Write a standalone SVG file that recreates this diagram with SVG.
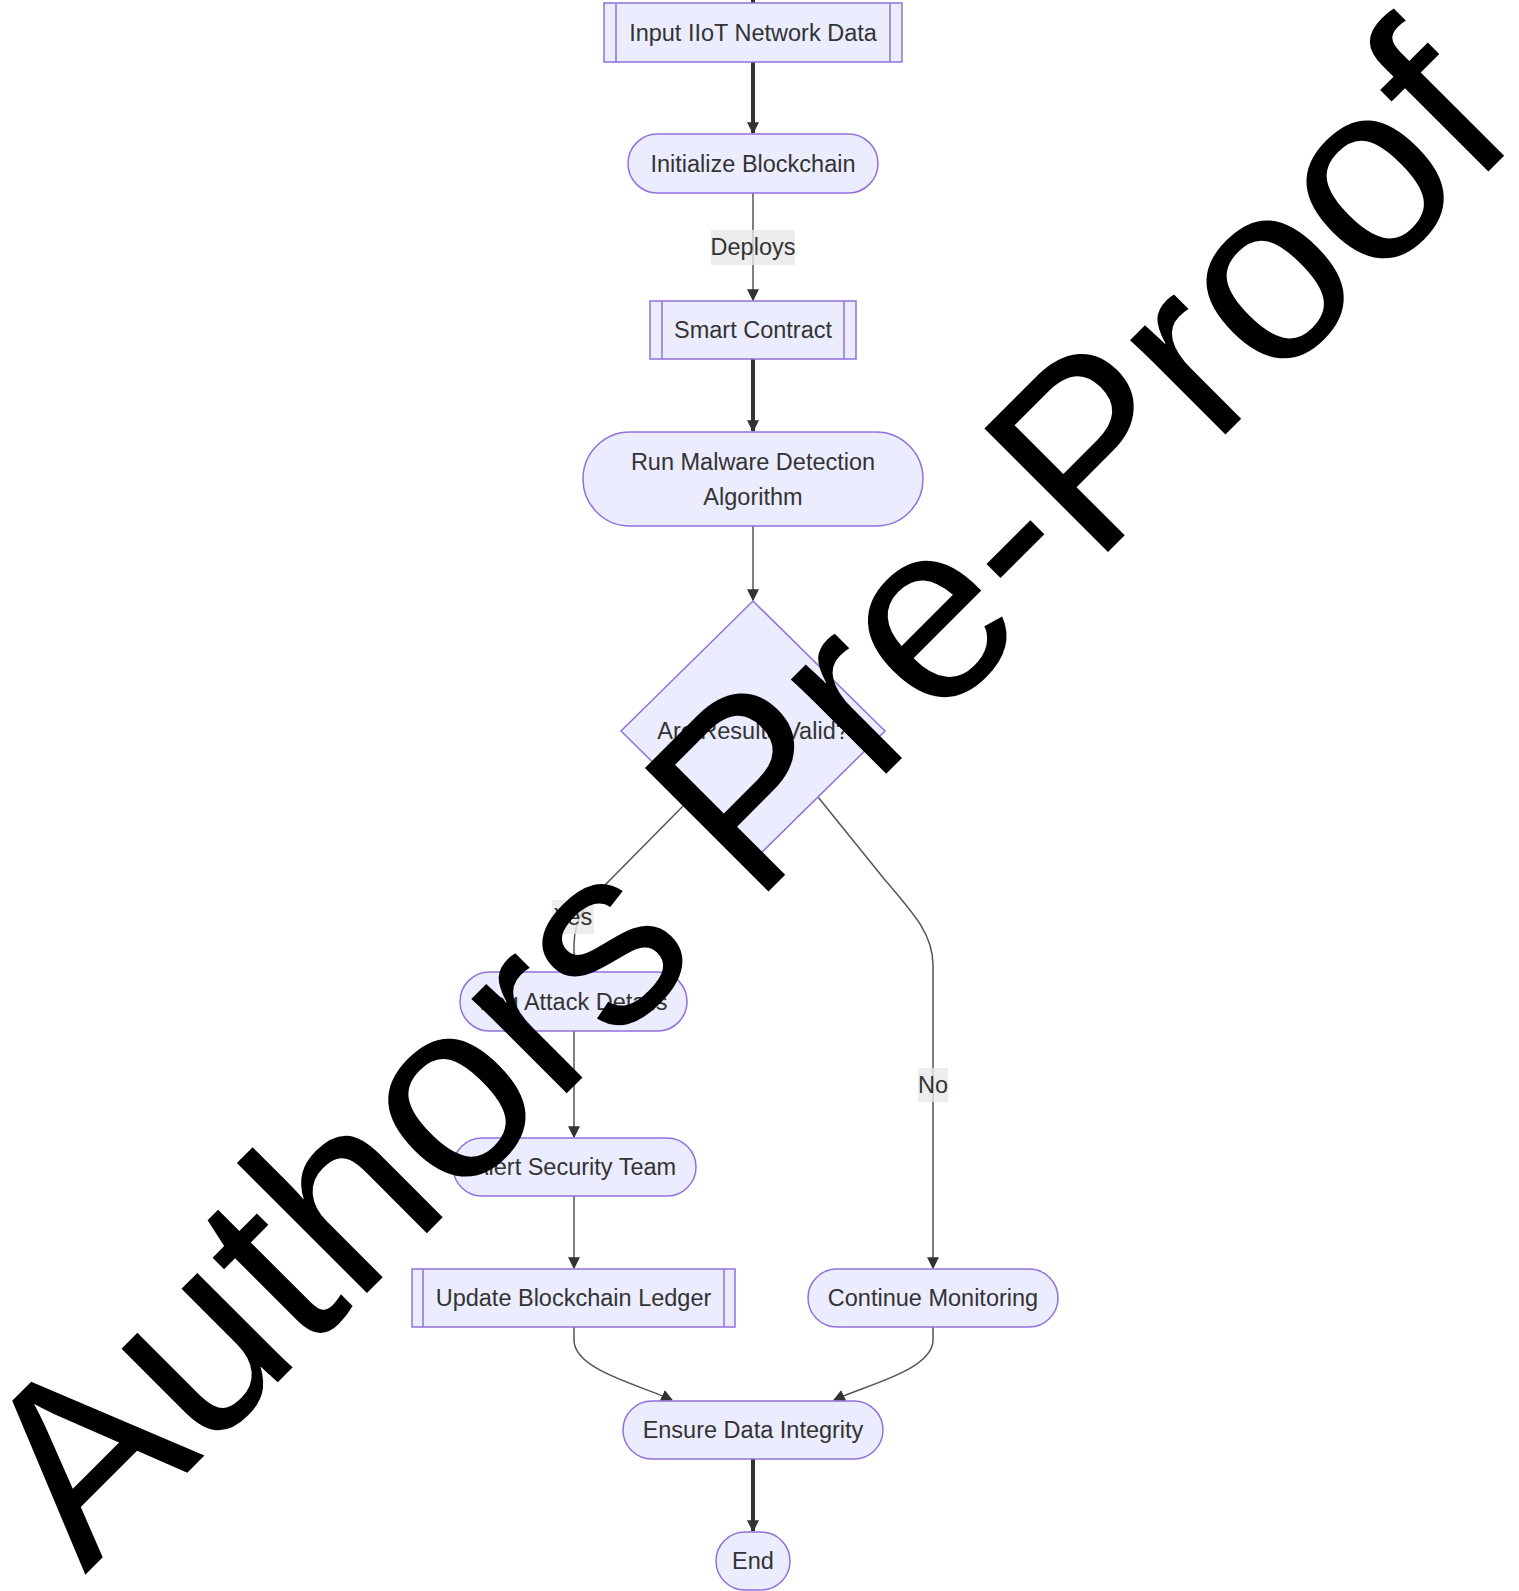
<svg xmlns="http://www.w3.org/2000/svg" width="1519" height="1591" viewBox="0 0 1519 1591">
<defs>
<marker id="arr" viewBox="0 0 10 10" refX="9" refY="5" markerUnits="userSpaceOnUse" markerWidth="12" markerHeight="12" orient="auto">
<path d="M0,0 L10,5 L0,10 z" fill="#333"/>
</marker>
</defs>
<style>
.node rect, .node polygon { fill: #ECECFF; stroke: #9370DB; stroke-width: 1.5; }
.node line { stroke: #9370DB; stroke-width: 1.5; }
.lbl { font-family: "Trebuchet MS", "Liberation Sans", Arial, sans-serif; font-size: 23.5px; fill: #333; text-anchor: middle; }
.thick { fill: none; stroke: #333; stroke-width: 4; marker-end: url(#arr); }
.thin { fill: none; stroke: #555; stroke-width: 1.5; marker-end: url(#arr); }
.elbg { fill: #e8e8e8; fill-opacity: 0.8; }
.wm { font-family: "Liberation Sans", Arial, sans-serif; font-size: 254px; fill: #000; }
</style>
<rect width="1519" height="1591" fill="#fff"/>
<g id="edges">
<path class="thick" d="M753,-5 L753,3" style="marker-end:none"/>
<path class="thick" d="M753,62 L753,133"/>
<path class="thin" d="M753,193 L753,300"/>
<path class="thick" d="M753,359 L753,431"/>
<path class="thin" d="M753,526 L753,600"/>
<path class="thin" d="M690,799 L610,880 C590,900 574,915 574,945 L574,971"/>
<path class="thin" d="M818,797 L885,880 C915,915 933,935 933,965 L933,1268"/>
<path class="thin" d="M574,1031 L574,1137"/>
<path class="thin" d="M574,1196 L574,1268"/>
<path class="thin" d="M574,1327 L574,1340 C574,1370 640,1385 672,1400"/>
<path class="thin" d="M933,1327 L933,1340 C933,1370 866,1385 834,1400"/>
<path class="thick" d="M753,1459 L753,1531"/>
<g id="edge-labels">
<rect class="elbg" x="711" y="230" width="84" height="35"/>
<text class="lbl" x="753" y="255">Deploys</text>
<rect class="elbg" x="552" y="900" width="42" height="34"/>
<text class="lbl" x="573" y="925">Yes</text>
<rect class="elbg" x="918" y="1068" width="30" height="34"/>
<text class="lbl" x="933" y="1093">No</text>
</g>
</g>
<g id="n-input" class="node">
<rect x="604" y="3" width="298" height="59"/>
<line x1="616" y1="3" x2="616" y2="62"/><line x1="890" y1="3" x2="890" y2="62"/>
<text class="lbl" x="753" y="41">Input IIoT Network Data</text>
</g>
<g id="n-init" class="node">
<rect x="628" y="134" width="250" height="59" rx="29.5"/>
<text class="lbl" x="753" y="172">Initialize Blockchain</text>
</g>
<g id="n-smart" class="node">
<rect x="650" y="301" width="206" height="58"/>
<line x1="662" y1="301" x2="662" y2="359"/><line x1="844" y1="301" x2="844" y2="359"/>
<text class="lbl" x="753" y="338">Smart Contract</text>
</g>
<g id="n-run" class="node">
<rect x="583" y="432" width="340" height="94" rx="47"/>
<text class="lbl" x="753" y="470">Run Malware Detection</text>
<text class="lbl" x="753" y="505">Algorithm</text>
</g>
<g id="n-valid" class="node">
<polygon points="753,601 885,731 753,861 621,731"/>
<text class="lbl" x="753" y="739">Are Results Valid?</text>
</g>
<g id="n-log" class="node">
<rect x="460" y="972" width="227" height="59" rx="29.5"/>
<text class="lbl" x="573.5" y="1010">Log Attack Details</text>
</g>
<g id="n-alert" class="node">
<rect x="453" y="1138" width="243" height="58" rx="29"/>
<text class="lbl" x="574.5" y="1175">Alert Security Team</text>
</g>
<g id="n-update" class="node">
<rect x="412" y="1269" width="323" height="58"/>
<line x1="423" y1="1269" x2="423" y2="1327"/><line x1="724" y1="1269" x2="724" y2="1327"/>
<text class="lbl" x="573.5" y="1306">Update Blockchain Ledger</text>
</g>
<g id="n-continue" class="node">
<rect x="808" y="1269" width="250" height="58" rx="29"/>
<text class="lbl" x="933" y="1306">Continue Monitoring</text>
</g>
<g id="n-ensure" class="node">
<rect x="623" y="1401" width="260" height="58" rx="29"/>
<text class="lbl" x="753" y="1438">Ensure Data Integrity</text>
</g>
<g id="n-end" class="node">
<rect x="716" y="1532" width="74" height="58" rx="29"/>
<text class="lbl" x="753" y="1569">End</text>
</g>
<text class="wm" x="85" y="1575" transform="rotate(-45 85 1575)">Authors Pre-Proof</text>
</svg>
